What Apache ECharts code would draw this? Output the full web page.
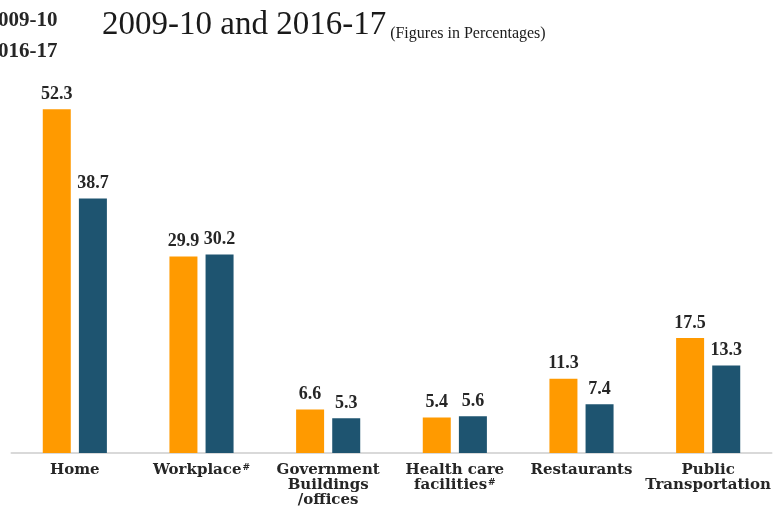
<!DOCTYPE html>
<html>
<head>
<meta charset="utf-8">
<script src="https://cdn.jsdelivr.net/npm/echarts@6/dist/echarts.min.js"></script>
<style>
  html, body { margin: 0; padding: 0; background: #fff; }
  #chart { width: 783px; height: 511px; }
</style>
</head>
<body>
<div id="chart"></div>
<script>
const categories = ['Home', 'Workplace#', 'Government\nBuildings\n/offices', 'Health care\nfacilities#', 'Restaurants', 'Public\nTransportation']
const seriesNames = ['2009-10', '2016-17']
const values0910 = [52.3, 29.9, 6.6, 5.4, 11.3, 17.5]
const values1617 = [38.7, 30.2, 5.3, 5.6, 7.4, 13.3]

const serif = 'Liberation Serif'
const slab = 'DejaVu Serif'
const textColor = '#262626'

const chart = echarts.init(document.getElementById('chart'))

function makeBar(name, data, color) {
  return {
    name: name,
    type: 'bar',
    data: data,
    barWidth: 28,
    barGap: '29%',
    itemStyle: { color: color },
    label: {
      show: true,
      position: 'top',
      distance: 6,
      color: textColor,
      fontFamily: serif,
      fontWeight: 'bold',
      fontSize: 18
    }
  }
}

const option = {
  animation: false,
  title: {
    left: 97,
    top: 0,
    text: '{big|2009-10 and 2016-17}{small|(Figures in Percentages)}',
    textStyle: {
      fontWeight: 'normal',
      rich: {
        big: { fontFamily: serif, fontWeight: 'normal', fontSize: 33, color: '#1a1a1a', lineHeight: 40 },
        small: { fontFamily: serif, fontWeight: 'normal', fontSize: 16, color: '#1a1a1a', lineHeight: 40, verticalAlign: 'bottom', padding: [0, 0, 3, 4] }
      }
    }
  },
  legend: {
    orient: 'vertical',
    left: -47.5,
    top: 5,
    itemWidth: 25,
    itemHeight: 10,
    itemGap: 10,
    data: seriesNames,
    textStyle: {
      fontFamily: serif,
      fontWeight: 'bold',
      fontSize: 21,
      color: textColor,
      lineHeight: 20
    }
  },
  grid: {
    left: 11.5,
    right: 11.5,
    top: 58.5,
    bottom: 58,
    containLabel: false
  },
  xAxis: {
    type: 'category',
    data: categories,
    axisTick: { show: false },
    axisLine: { lineStyle: { color: '#d9d9d9', width: 2 } },
    axisLabel: {
      interval: 0,
      margin: 10,
      color: textColor,
      fontFamily: slab,
      fontWeight: 'bold',
      fontSize: 15,
      lineHeight: 15,
      formatter: v => v.replace('#', '{sup|#}'),
      rich: {
        sup: { fontFamily: slab, fontWeight: 'bold', fontSize: 9, color: textColor, verticalAlign: 'top', lineHeight: 8, padding: [0, 0, 0, 1] }
      }
    }
  },
  yAxis: {
    type: 'value',
    min: 0,
    max: 60,
    show: false,
    splitLine: { show: false }
  },
  series: [
    makeBar(seriesNames[0], values0910, '#FF9A00'),
    makeBar(seriesNames[1], values1617, '#1E5470')
  ]
}

chart.setOption(option)
</script>
</body>
</html>
